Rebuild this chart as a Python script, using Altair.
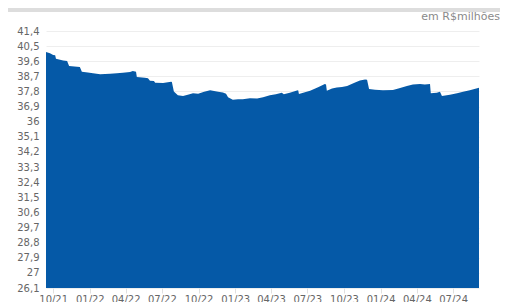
import altair as alt
import pandas as pd

dates = [
    "2021-09-13", "2021-09-23", "2021-10-01", "2021-10-06", "2021-10-08", "2021-10-26",
    "2021-11-05", "2021-11-10", "2021-11-30", "2021-12-07", "2021-12-12", "2021-12-27",
    "2022-01-09", "2022-01-27", "2022-02-21", "2022-03-10", "2022-03-25", "2022-04-12",
    "2022-04-19", "2022-04-27", "2022-04-29", "2022-05-19", "2022-05-27", "2022-06-01",
    "2022-06-11", "2022-06-14", "2022-07-04", "2022-07-24", "2022-07-26", "2022-07-31",
    "2022-08-10", "2022-08-23", "2022-09-04", "2022-09-17", "2022-09-30", "2022-10-15",
    "2022-10-30", "2022-11-09", "2022-11-19", "2022-12-01", "2022-12-09", "2022-12-14",
    "2022-12-26", "2023-01-08", "2023-01-20", "2023-02-07", "2023-02-25", "2023-03-12",
    "2023-03-29", "2023-04-13", "2023-04-28", "2023-05-03", "2023-05-18", "2023-06-05",
    "2023-06-08", "2023-06-10", "2023-06-25", "2023-07-08", "2023-07-28", "2023-08-14",
    "2023-08-17", "2023-08-19", "2023-09-01", "2023-09-13", "2023-09-26", "2023-10-09",
    "2023-10-26", "2023-11-10", "2023-11-23", "2023-11-28", "2023-12-03", "2023-12-18",
    "2024-01-07", "2024-02-01", "2024-02-19", "2024-03-07", "2024-03-22", "2024-04-09",
    "2024-04-21", "2024-05-04", "2024-05-06", "2024-05-21", "2024-05-29", "2024-06-03",
    "2024-06-23", "2024-07-11", "2024-07-26", "2024-08-12", "2024-09-04",
]
values = [
    40.15, 40.07, 39.97, 39.95, 39.75, 39.65,
    39.62, 39.32, 39.27, 39.25, 38.97, 38.93,
    38.88, 38.83, 38.86, 38.88, 38.92, 38.96,
    39.02, 38.98, 38.66, 38.62, 38.58, 38.44,
    38.42, 38.32, 38.30, 38.38, 38.36, 37.80,
    37.57, 37.53, 37.60, 37.69, 37.66, 37.78,
    37.88, 37.83, 37.78, 37.74, 37.66, 37.45,
    37.30, 37.33, 37.33, 37.40, 37.38, 37.45,
    37.57, 37.64, 37.72, 37.64, 37.72, 37.86,
    37.88, 37.65, 37.76, 37.85, 38.05, 38.24,
    38.22, 37.85, 37.98, 38.04, 38.06, 38.12,
    38.30, 38.46, 38.52, 38.50, 37.95, 37.90,
    37.87, 37.89, 38.00, 38.12, 38.22, 38.24,
    38.22, 38.24, 37.69, 37.72, 37.78, 37.53,
    37.60, 37.70, 37.78, 37.87, 38.02,
]
y_ticks = [26.1, 27.0, 27.9, 28.8, 29.7, 30.6, 31.5, 32.4, 33.3, 34.2,
           35.1, 36.0, 36.9, 37.8, 38.7, 39.6, 40.5, 41.4]
x_tick_months = [(2021, 10), (2022, 1), (2022, 4), (2022, 7), (2022, 10), (2023, 1),
                 (2023, 4), (2023, 7), (2023, 10), (2024, 1), (2024, 4), (2024, 7)]
unit_label = "em R$milhões"

df = pd.DataFrame({"date": dates, "value": values})

W, H = 433, 257
FONT = "DejaVu Sans"

area = alt.Chart(df).mark_area(color="#0559a7", interpolate="linear").encode(
    x=alt.X("date:T",
            scale=alt.Scale(type="utc", domain=["2021-09-13", "2024-09-04"]),
            axis=alt.Axis(
                values=[alt.DateTime(year=y, month=m, date=1, utc=True) for y, m in x_tick_months],
                format="%m/%y", title=None, grid=False, domain=False,
                tickColor="#e0e0e0", tickSize=5, labelPadding=1,
                labelColor="#666666", labelFontSize=10, labelFont=FONT)),
    y=alt.Y("value:Q",
            scale=alt.Scale(domain=[26.1, 41.4], zero=False, nice=False),
            axis=alt.Axis(
                values=y_ticks, title=None, domain=False, ticks=False,
                labelPadding=7, labelColor="#666666", labelFontSize=10, labelFont=FONT,
                gridColor="#eeeeee",
                labelExpr="replace(format(datum.value, '.1~f'), '.', ',')")),
    y2=alt.Y2(datum=26.1),
)

band = alt.Chart(pd.DataFrame({"a": [0]})).mark_rect(color="#dddddd").encode(
    x=alt.value(-38), x2=alt.value(454), y=alt.value(-23), y2=alt.value(-19))

unit = alt.Chart(pd.DataFrame({"t": [unit_label]})).mark_text(
    align="right", baseline="middle", font=FONT, fontSize=11, color="#8a8a8a"
).encode(text="t:N", x=alt.value(454), y=alt.value(-14))

chart = alt.layer(area, band, unit).properties(
    width=W, height=H,
    autosize=alt.AutoSizeParams(type="none"),
    padding={"left": 38, "top": 23, "right": 21, "bottom": 30},
).configure_view(stroke=None)

chart.save("out.html", embed_options={"renderer": "svg", "actions": False})
